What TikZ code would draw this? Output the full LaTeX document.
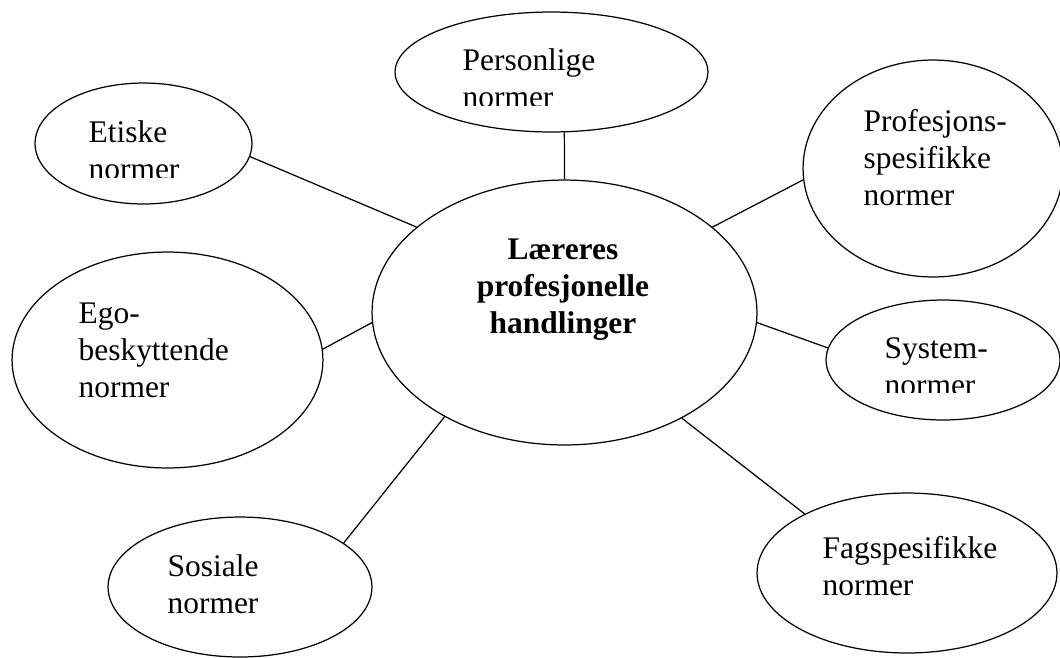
\documentclass[tikz,border=0pt]{standalone}
\usepackage{fontspec}
\setmainfont{Liberation Serif}
\usetikzlibrary{shapes.geometric}

\begin{document}
\begin{tikzpicture}[x=0.02cm,y=-0.02cm,line width=0.7pt,
  norm/.style 2 args={draw,ellipse,inner sep=0pt,minimum width=#1*0.04cm,minimum height=#2*0.04cm},
  normtext/.style={anchor=base west,align=left,inner sep=0pt,font=\fontsize{17.9}{21}\selectfont}]
  \useasboundingbox (0,0) rectangle (1060,657);
  %centre
  \node[norm={192.5}{132.5}] (lh) at (564.5,312.5) {};
  \node[normtext,anchor=base,align=center,font=\fontsize{17.9}{21}\selectfont\bfseries] (lh-t) at (563,333) {Læreres\\profesjonelle\\handlinger};
  %left
  \node[norm={108.5}{60.5}] (et) at (143.5,143.5) {};
  \begin{scope}
    \clip (80,100) rectangle (260,177);
    \node[normtext] (et-t) at (88,179) {Etiske\\normer};
  \end{scope}
  \node[norm={155.5}{108}] (eg) at (167.5,360) {};
  \node[normtext] (eg-t) at (78,397) {Ego-\\beskyttende\\normer};
  \node[norm={132}{70}] (so) at (240,587) {};
  \node[normtext] (so-t) at (167,613) {Sosiale\\normer};
  %top
  \node[norm={156.5}{60}] (pn) at (551.5,72) {};
  \begin{scope}
    \clip (450,30) rectangle (620,105);
    \node[normtext] (pn-t) at (462,107) {Personlige\\normer};
  \end{scope}
  %right
  \node[norm={130}{108.5}] (pf) at (933,168.5) {};
  \node[normtext] (pf-t) at (863,205) {Profesjons-\\spesifikke\\normer};
  \node[norm={117}{60}] (sy) at (943,360) {};
  \begin{scope}
    \clip (875,320) rectangle (1040,392);
    \node[normtext] (sy-t) at (884,395) {System-\\normer};
  \end{scope}
  \node[norm={150}{80}] (fg) at (907,573) {};
  \node[normtext] (fg-t) at (822,595) {Fagspesifikke\\normer};
  %connectors
  \draw (et.-7) -- (lh.150);
  \draw (pn.-78) -- (lh.90);
  \draw (pf.185.5) -- (lh.30.6);
  \draw (eg.4.4) -- (lh.183.4);
  \draw (sy.174) -- (lh.-3.7);
  \draw (so.23.5) -- (lh.221.8);
  \draw (fg.150.9) -- (lh.-42.2);
\end{tikzpicture}
\end{document}
